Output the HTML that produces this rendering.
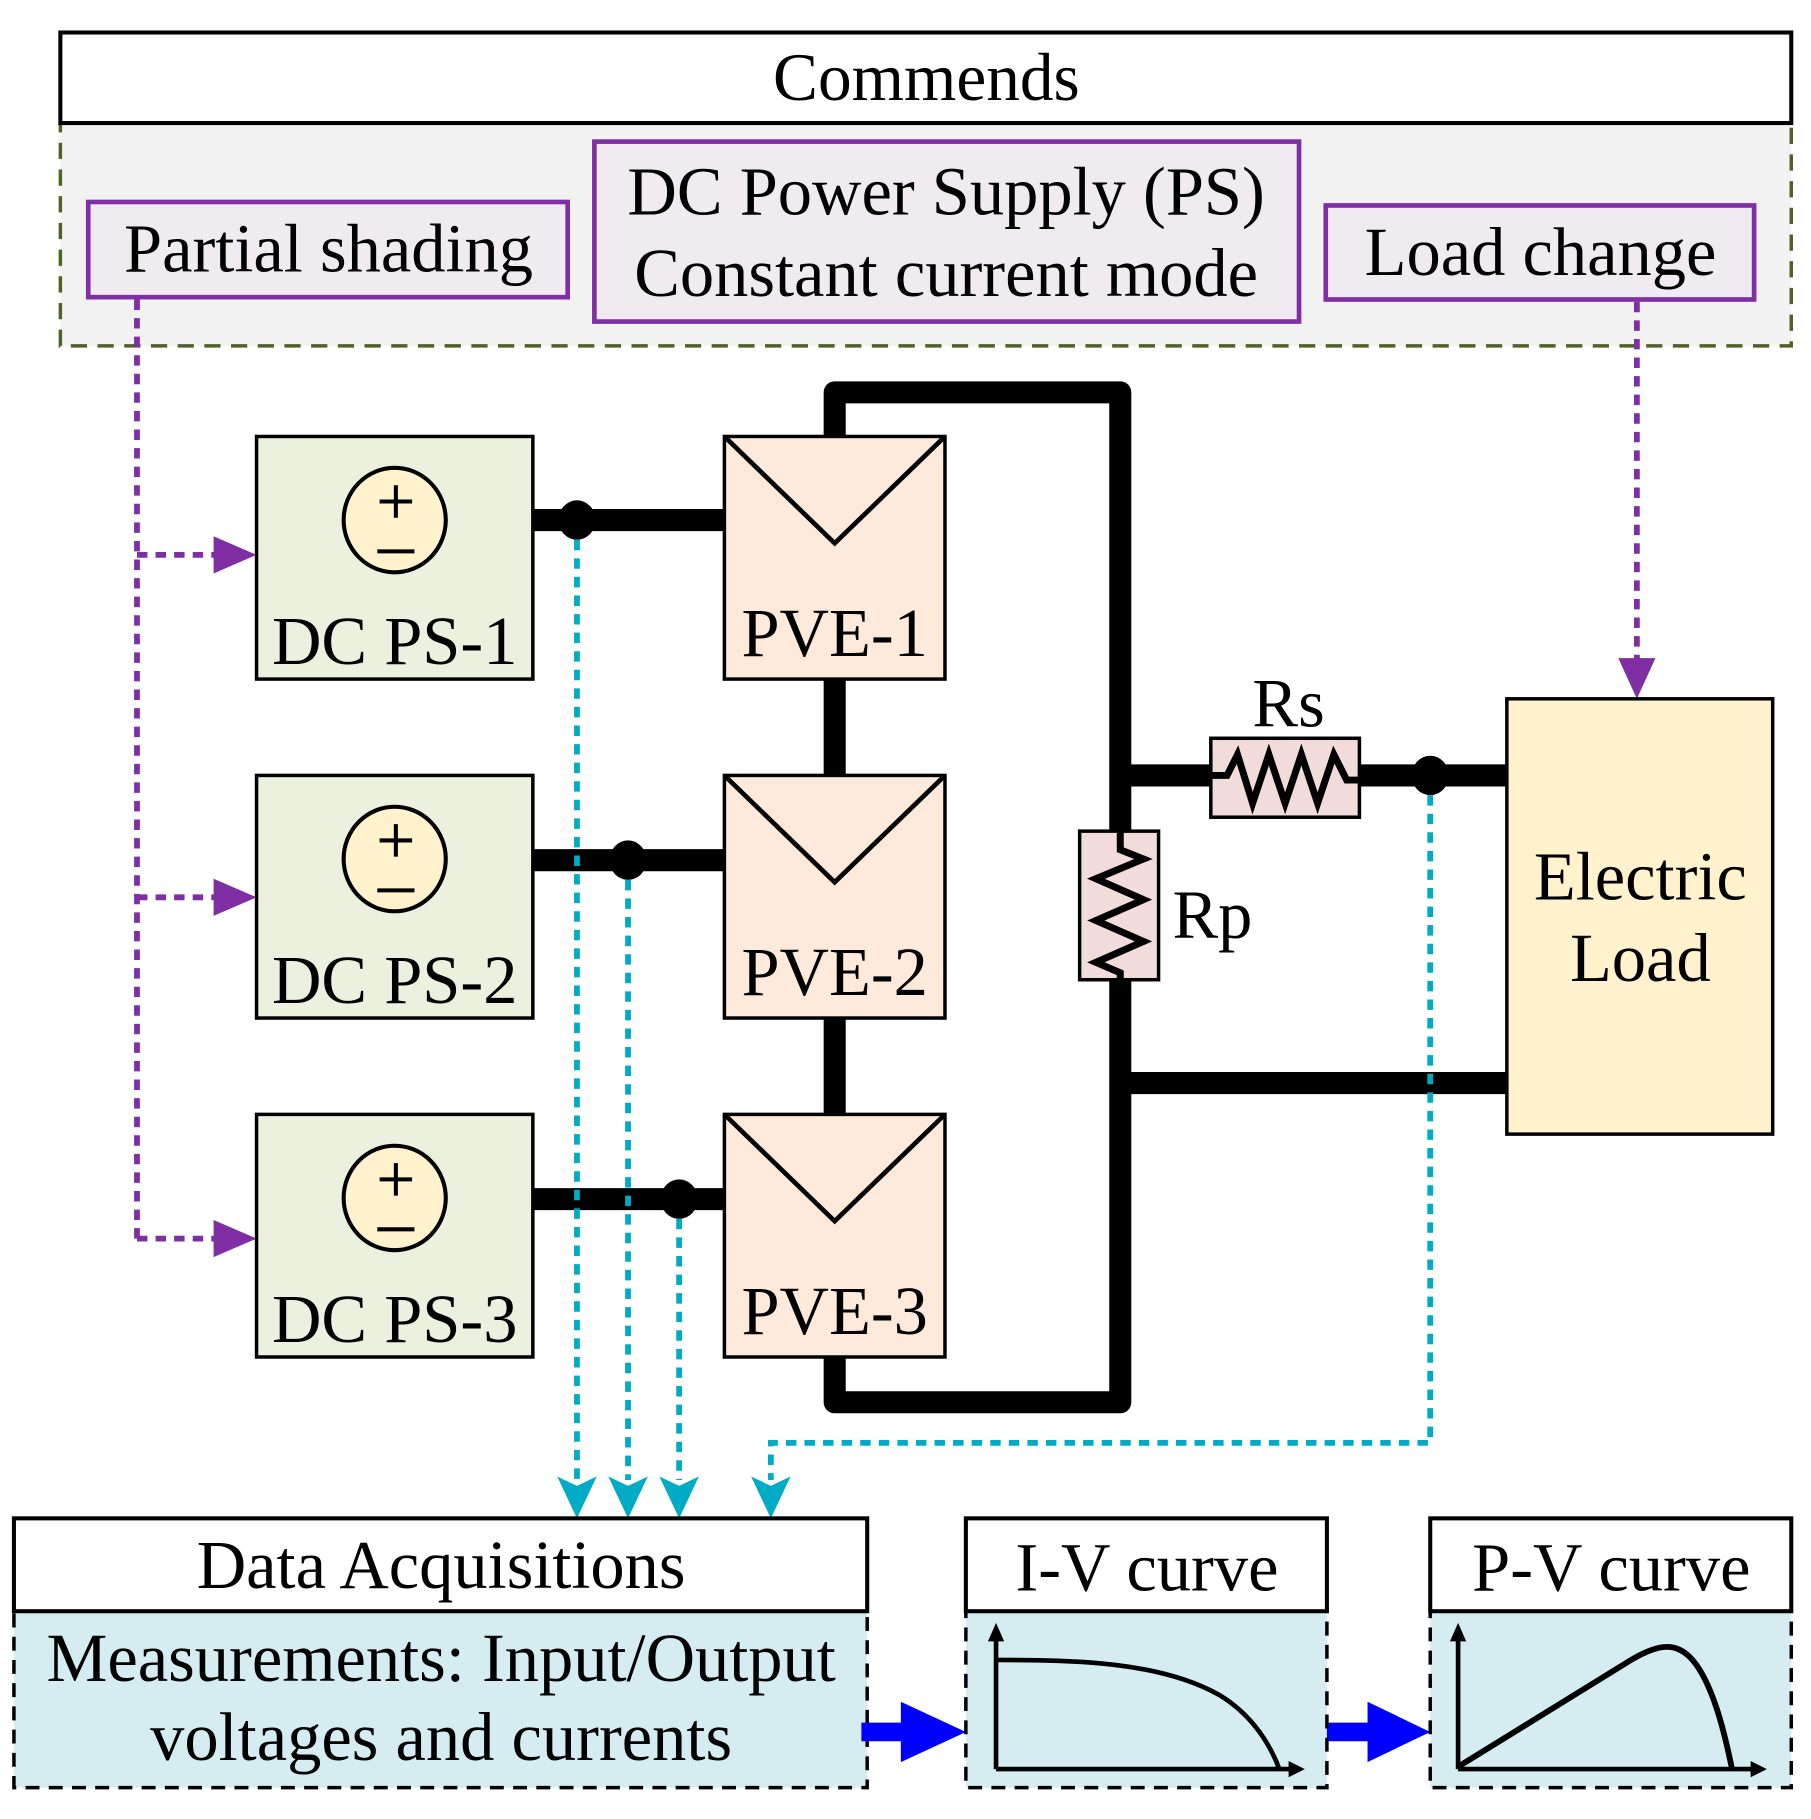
<!DOCTYPE html>
<html><head><meta charset="utf-8"><style>
html,body{margin:0;padding:0;background:#fff;}
svg{display:block;}
text{font-family:"Liberation Serif",serif;fill:#000;}
</style></head><body>
<svg width="1811" height="1819" viewBox="0 0 1560 1567" preserveAspectRatio="none" xmlns="http://www.w3.org/2000/svg">
<!-- Commends -->
<rect x="52" y="106" width="1491" height="192" fill="#f2f2f2" stroke="#4f6228" stroke-width="3" stroke-dasharray="14,9"/>
<rect x="52" y="28" width="1491" height="78" fill="#fff" stroke="#000" stroke-width="3.5"/>
<text x="798" y="86" font-size="58" text-anchor="middle">Commends</text>
<rect x="76" y="174" width="413" height="82" fill="#efebf1" stroke="#7f2fa3" stroke-width="4"/>
<text x="283" y="234" font-size="59" text-anchor="middle">Partial shading</text>
<rect x="512" y="122" width="607" height="155" fill="#efebf1" stroke="#7f2fa3" stroke-width="4"/>
<text x="815" y="185" font-size="59" text-anchor="middle">DC Power Supply (PS)</text>
<text x="815" y="255" font-size="59" text-anchor="middle">Constant current mode</text>
<rect x="1142" y="177" width="369" height="81" fill="#efebf1" stroke="#7f2fa3" stroke-width="4"/>
<text x="1327" y="237" font-size="59" text-anchor="middle">Load change</text>
<!-- purple dotted -->
<g stroke="#7f2fa3" stroke-width="5" stroke-dasharray="9,7" fill="none">
<path d="M118 258 V1067"/>
<path d="M118 478 H186"/><path d="M118 773 H186"/><path d="M118 1067 H186"/>
<path d="M1410 260 V570"/>
</g>
<g fill="#7f2fa3">
<path d="M184 462 L221 478 L184 494 Z"/><path d="M184 757 L221 773 L184 789 Z"/><path d="M184 1051 L221 1067 L184 1083 Z"/>
<path d="M1394 567 L1410 602 L1426 567 Z"/>
</g>
<!-- wires -->
<g stroke="#000" stroke-width="19" fill="none" stroke-linejoin="round" stroke-linecap="round">
<path d="M719 376 V338 H965 V1208 H719 V1169"/>
<path d="M719 585 V668"/><path d="M719 877 V960"/>
</g>
<g stroke="#000" stroke-width="19" fill="none">
<path d="M459 448 H624"/><path d="M459 741 H624"/><path d="M459 1033 H624"/>
<path d="M965 668 H1043"/><path d="M1171 668 H1298"/>
<path d="M965 933 H1298"/>
</g>
<g fill="#000">
<ellipse cx="497" cy="448" rx="16" ry="17"/><ellipse cx="541" cy="741" rx="16" ry="17"/><ellipse cx="585" cy="1033" rx="16" ry="17"/>
<ellipse cx="1232" cy="668" rx="16" ry="17"/>
</g>
<!-- cyan dotted -->
<g stroke="#00abc5" stroke-width="5" stroke-dasharray="9,7" fill="none">
<path d="M497 465 V1275"/><path d="M541 758 V1275"/><path d="M585 1050 V1275"/>
<path d="M1232 685 V1243 H664 V1275"/>
</g>
<g fill="#00abc5">
<path d="M480 1272 L497 1308 L514 1272 L497 1280Z"/>
<path d="M524 1272 L541 1308 L558 1272 L541 1280Z"/>
<path d="M568 1272 L585 1308 L602 1272 L585 1280Z"/>
<path d="M647 1272 L664 1308 L681 1272 L664 1280Z"/>
</g>
<!-- DC PS boxes -->
<g id="ps">
<rect x="221" y="376" width="238" height="209" fill="#ebf1de" stroke="#000" stroke-width="3"/>
<ellipse cx="340" cy="448" rx="44" ry="45" fill="#fff2cc" stroke="#000" stroke-width="3.5"/>
<path d="M341 418 V446 M327 432 H355 M325 475 H357" stroke="#000" stroke-width="3.5"/>
</g>
<use href="#ps" y="292"/>
<use href="#ps" y="584"/>
<text x="340" y="572" font-size="59" text-anchor="middle">DC PS-1</text>
<text x="340" y="864" font-size="59" text-anchor="middle">DC PS-2</text>
<text x="340" y="1156" font-size="59" text-anchor="middle">DC PS-3</text>
<!-- PVE boxes -->
<g id="pv">
<rect x="624" y="376" width="190" height="209" fill="#fdeada" stroke="#000" stroke-width="3"/>
<path d="M624 376 L719 468 L814 376" stroke="#000" stroke-width="4" fill="none"/>
</g>
<use href="#pv" y="292"/>
<use href="#pv" y="584"/>
<text x="719" y="565" font-size="59" text-anchor="middle">PVE-1</text>
<text x="719" y="857" font-size="59" text-anchor="middle">PVE-2</text>
<text x="719" y="1149" font-size="59" text-anchor="middle">PVE-3</text>
<!-- Rp -->
<rect x="930" y="716" width="68" height="128" fill="#f2dcdb" stroke="#000" stroke-width="3"/>
<path d="M965 716 V732 L985 740 L944 757 L985 775 L944 793 L985 811 L944 829 L965 838 V844" stroke="#000" stroke-width="6" fill="none"/>
<text x="1010" y="808" font-size="59">Rp</text>
<!-- Rs -->
<rect x="1043" y="636" width="128" height="68" fill="#f2dcdb" stroke="#000" stroke-width="3"/>
<path d="M1043 668 H1057 L1066 650 L1079 692 L1093 650 L1107 692 L1121 650 L1135 692 L1149 650 L1160 672 H1171" stroke="#000" stroke-width="6" fill="none"/>
<text x="1110" y="626" font-size="59" text-anchor="middle">Rs</text>
<!-- Electric load -->
<rect x="1298" y="602" width="229" height="375" fill="#fff2cc" stroke="#000" stroke-width="3"/>
<text x="1413" y="775" font-size="59" text-anchor="middle">Electric</text>
<text x="1413" y="845" font-size="59" text-anchor="middle">Load</text>
<!-- Data acquisitions -->
<rect x="12" y="1388" width="735" height="152" fill="#d5ecf1" stroke="#000" stroke-width="3" stroke-dasharray="12,8"/>
<rect x="12" y="1308" width="735" height="80" fill="#fff" stroke="#000" stroke-width="3.5"/>
<text x="380" y="1368" font-size="59" text-anchor="middle">Data Acquisitions</text>
<text x="380" y="1448" font-size="59" text-anchor="middle">Measurements: Input/Output</text>
<text x="380" y="1516" font-size="59" text-anchor="middle">voltages and currents</text>
<!-- blue arrows -->
<path d="M742 1484 H776 V1466 L832 1492 L776 1518 V1500 H742 Z" fill="#0000ff"/>
<path d="M1138 1484 H1178 V1466 L1232 1492 L1178 1518 V1500 H1138 Z" fill="#0000ff"/>
<!-- I-V -->
<rect x="832" y="1388" width="311" height="152" fill="#d5ecf1" stroke="#000" stroke-width="3" stroke-dasharray="12,8"/>
<rect x="832" y="1308" width="311" height="80" fill="#fff" stroke="#000" stroke-width="3.5"/>
<text x="988" y="1370" font-size="59" text-anchor="middle">I-V curve</text>
<path d="M858 1524 V1412 M858 1524 H1112" stroke="#000" stroke-width="4" fill="none"/>
<path d="M851 1414 L858 1398 L865 1414Z M1110 1517 L1124 1524 L1110 1531Z" fill="#000"/>
<path d="M858 1430 C930 1430 1000 1432 1050 1460 C1080 1478 1095 1505 1102 1524" stroke="#000" stroke-width="4" fill="none"/>
<!-- P-V -->
<rect x="1232" y="1388" width="311" height="152" fill="#d5ecf1" stroke="#000" stroke-width="3" stroke-dasharray="12,8"/>
<rect x="1232" y="1308" width="311" height="80" fill="#fff" stroke="#000" stroke-width="3.5"/>
<text x="1388" y="1370" font-size="59" text-anchor="middle">P-V curve</text>
<path d="M1256 1524 V1412 M1256 1524 H1510" stroke="#000" stroke-width="4" fill="none"/>
<path d="M1249 1414 L1256 1398 L1263 1414Z M1508 1517 L1522 1524 L1508 1531Z" fill="#000"/>
<path d="M1256 1522 L1405 1430 C1430 1415 1445 1415 1458 1430 C1475 1450 1485 1490 1492 1524" stroke="#000" stroke-width="5" fill="none"/>
</svg>
</body></html>
